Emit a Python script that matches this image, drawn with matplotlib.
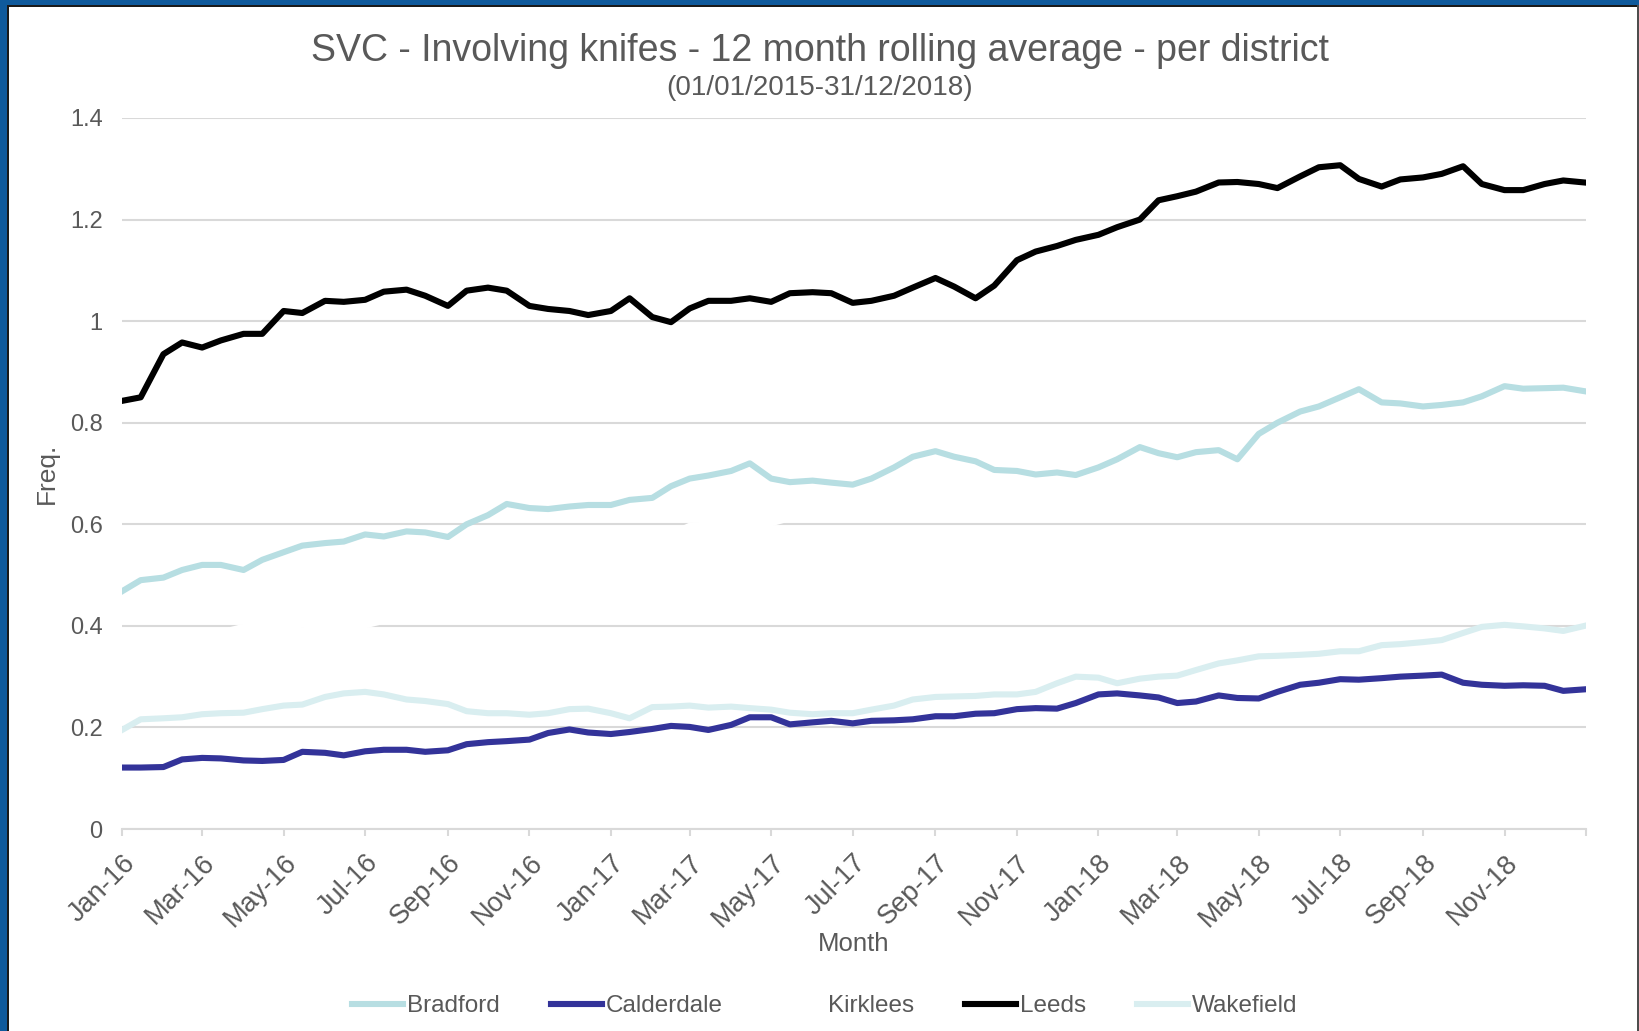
import matplotlib
matplotlib.use("Agg")
import matplotlib.pyplot as plt
from matplotlib.patches import Rectangle
import pandas as pd

plt.rcParams["font.family"] = ["Liberation Sans", "DejaVu Sans"]

# sample dates: 1st and 15th of each month, plus the last day of the series
dates = list(pd.date_range("2016-01-01", "2018-12-15", freq="SMS")) + [pd.Timestamp("2018-12-31")]

districts = ["Bradford", "Calderdale", "Kirklees", "Leeds", "Wakefield"]
colors = ["#b7dee2", "#333399", "#ffffff", "#000000", "#d9eef0"]

bradford = [
    0.468, 0.490, 0.495, 0.510, 0.520, 0.520, 0.510, 0.530, 0.545, 0.558, 0.563, 0.566,
    0.580, 0.576, 0.586, 0.584, 0.575, 0.600, 0.618, 0.640, 0.632, 0.630, 0.635, 0.638,
    0.638, 0.648, 0.652, 0.675, 0.690, 0.696, 0.705, 0.720, 0.690, 0.683, 0.686, 0.682,
    0.678, 0.690, 0.712, 0.733, 0.744, 0.733, 0.724, 0.707, 0.705, 0.698, 0.702, 0.697,
    0.712, 0.728, 0.752, 0.740, 0.732, 0.742, 0.746, 0.728, 0.778, 0.800, 0.822, 0.832,
    0.850, 0.866, 0.840, 0.838, 0.832, 0.835, 0.840, 0.852, 0.872, 0.867, 0.868, 0.869,
    0.862,
]
calderdale = [
    0.121, 0.121, 0.122, 0.137, 0.140, 0.139, 0.135, 0.134, 0.136, 0.152, 0.150, 0.145,
    0.153, 0.156, 0.156, 0.152, 0.155, 0.167, 0.171, 0.173, 0.176, 0.189, 0.196, 0.190,
    0.187, 0.191, 0.197, 0.203, 0.201, 0.195, 0.205, 0.220, 0.220, 0.206, 0.210, 0.213,
    0.208, 0.213, 0.214, 0.216, 0.222, 0.222, 0.227, 0.228, 0.236, 0.238, 0.237, 0.248,
    0.265, 0.267, 0.263, 0.259, 0.248, 0.251, 0.263, 0.258, 0.257, 0.270, 0.284, 0.288,
    0.295, 0.294, 0.297, 0.300, 0.302, 0.304, 0.288, 0.284, 0.282, 0.283, 0.282, 0.272,
    0.275,
]
kirklees = [
    0.370, 0.374, 0.378, 0.381, 0.384, 0.387, 0.398, 0.401, 0.399, 0.402, 0.400, 0.399,
    0.401, 0.410, 0.420, 0.430, 0.440, 0.450, 0.460, 0.470, 0.480, 0.490, 0.500, 0.510,
    0.520, 0.540, 0.560, 0.580, 0.597, 0.600, 0.601, 0.600, 0.602, 0.612, 0.616, 0.620,
    0.622, 0.625, 0.630, 0.628, 0.632, 0.630, 0.627, 0.624, 0.626, 0.630, 0.632, 0.635,
    0.638, 0.640, 0.642, 0.640, 0.645, 0.648, 0.650, 0.647, 0.650, 0.652, 0.655, 0.654,
    0.657, 0.660, 0.658, 0.660, 0.662, 0.661, 0.663, 0.665, 0.664, 0.666, 0.665, 0.667,
    0.666,
]
leeds = [
    0.843, 0.850, 0.935, 0.958, 0.948, 0.962, 0.975, 0.975, 1.020, 1.016, 1.040, 1.038,
    1.042, 1.058, 1.062, 1.050, 1.030, 1.060, 1.066, 1.060, 1.030, 1.024, 1.020, 1.012,
    1.020, 1.045, 1.008, 0.998, 1.025, 1.040, 1.040, 1.045, 1.038, 1.055, 1.057, 1.055,
    1.036, 1.040, 1.050, 1.066, 1.085, 1.068, 1.045, 1.070, 1.120, 1.137, 1.148, 1.160,
    1.170, 1.185, 1.200, 1.238, 1.246, 1.255, 1.273, 1.274, 1.270, 1.262, 1.285, 1.303,
    1.307, 1.280, 1.265, 1.279, 1.283, 1.290, 1.305, 1.270, 1.258, 1.258, 1.270, 1.277,
    1.273,
]
wakefield = [
    0.195, 0.216, 0.218, 0.220, 0.226, 0.228, 0.229, 0.236, 0.243, 0.245, 0.260, 0.267,
    0.270, 0.265, 0.255, 0.252, 0.246, 0.232, 0.228, 0.228, 0.225, 0.228, 0.236, 0.237,
    0.228, 0.218, 0.240, 0.241, 0.243, 0.239, 0.241, 0.238, 0.235, 0.229, 0.226, 0.228,
    0.228, 0.235, 0.243, 0.255, 0.260, 0.261, 0.262, 0.265, 0.265, 0.270, 0.287, 0.300,
    0.298, 0.287, 0.296, 0.300, 0.302, 0.313, 0.326, 0.332, 0.340, 0.341, 0.343, 0.345,
    0.350, 0.350, 0.362, 0.364, 0.368, 0.372, 0.386, 0.398, 0.402, 0.399, 0.395, 0.390,
    0.400,
]
series = [bradford, calderdale, kirklees, leeds, wakefield]

y_ticks = [0, 0.2, 0.4, 0.6, 0.8, 1.0, 1.2, 1.4]
y_labels = ["0", "0.2", "0.4", "0.6", "0.8", "1", "1.2", "1.4"]

text_col = "#595959"
grid_col = "#d9d9d9"
blue = "#0f5a9c"

fig = plt.figure(figsize=(16.4, 10.31), dpi=100)
ax = fig.add_axes([122 / 1640, 1 - 829 / 1031, (1586 - 122) / 1640, (829 - 118) / 1031])

for name, vals, col in zip(districts, series, colors):
    ax.plot(dates, vals, color=col, lw=4.4, label=name, solid_joinstyle="round")

# axes styling
ax.set_ylim(0, 1.4)
ax.set_xlim(pd.Timestamp("2016-01-01"), pd.Timestamp("2019-01-01"))
ax.set_yticks(y_ticks)
ax.set_yticklabels(y_labels)
xt = list(pd.date_range("2016-01-01", "2019-01-01", freq="2MS"))
ax.set_xticks(xt)
ax.set_xticklabels([d.strftime("%b-%y") for d in xt[:-1]] + [""])
for lab in ax.get_xticklabels():
    lab.set_rotation(45)
    lab.set_ha("right")
    lab.set_rotation_mode("anchor")
ax.tick_params(axis="y", length=0, pad=14, labelsize=17, labelcolor=text_col)
ax.tick_params(axis="x", length=5, width=1.5, color=grid_col, pad=10,
               labelsize=19.5, labelcolor=text_col)
ax.yaxis.grid(True, color=grid_col, lw=1.5)
ax.set_axisbelow(True)
for s in ["left", "right", "top"]:
    ax.spines[s].set_visible(False)
ax.spines["bottom"].set_color(grid_col)
ax.spines["bottom"].set_linewidth(1.5)

ax.set_xlabel("Month", fontsize=18.5, color=text_col, labelpad=0)
ax.set_ylabel("Freq.", fontsize=19, color=text_col, labelpad=8)

fig.text(0.5, 1 - 51 / 1031, "SVC - Involving knifes - 12 month rolling average - per district",
         ha="center", va="center", fontsize=27, color=text_col)
fig.text(0.5, 1 - 88 / 1031, "(01/01/2015-31/12/2018)",
         ha="center", va="center", fontsize=20, color=text_col)

fig.legend(loc="center", bbox_to_anchor=(0.503, 1 - 1006 / 1031), ncol=5, frameon=False,
           fontsize=17.5, labelcolor=text_col, handlelength=2.1, handletextpad=0.15,
           columnspacing=2.1)

# blue frame around the chart
fig.add_artist(Rectangle((0, 0), 7 / 1640, 1, transform=fig.transFigure, color=blue, lw=0))
fig.add_artist(Rectangle((0, 1 - 5 / 1031), 1, 5 / 1031, transform=fig.transFigure, color=blue, lw=0))
fig.add_artist(Rectangle((7 / 1640, 0), 1.5 / 1640, 1 - 5 / 1031, transform=fig.transFigure, color="#1a1a1a", lw=0))
fig.add_artist(Rectangle((7 / 1640, 1 - 6.5 / 1031), 1 - 7 / 1640, 1.5 / 1031, transform=fig.transFigure, color="#1a1a1a", lw=0))
fig.add_artist(Rectangle((1 - 2.5 / 1640, 0), 2.5 / 1640, 1 - 5 / 1031, transform=fig.transFigure, color="#4d4d4d", lw=0))

fig.savefig("out.png", dpi=100)
